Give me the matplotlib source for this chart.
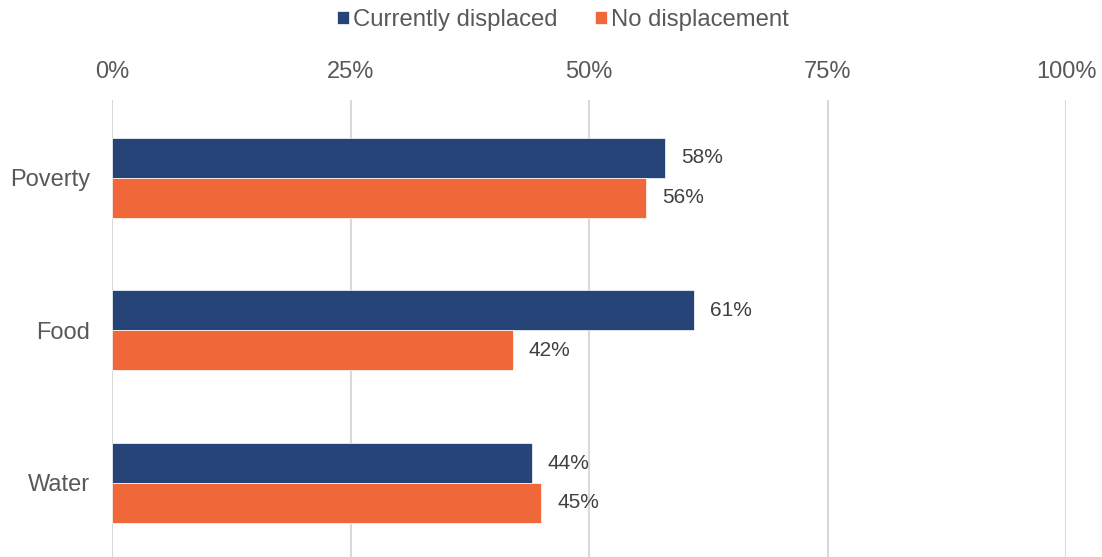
import numpy as np
import matplotlib
matplotlib.use("Agg")
import matplotlib.pyplot as plt

plt.rcParams['font.family'] = ['Liberation Sans', 'DejaVu Sans']

categories = ["Poverty", "Food", "Water"]
displaced = [58, 61, 44]
no_displacement = [56, 42, 45]
series_names = ["Currently displaced", "No displacement"]
ticks = [0, 25, 50, 75, 100]

BLUE = "#264478"
ORANGE = "#F0673A"

fig = plt.figure(figsize=(11.02, 5.57), dpi=100)
ax = fig.add_axes([112 / 1102, 0, (1066 - 112) / 1102, 1 - 100 / 557])

y = np.arange(len(categories))
h = 0.262
b1 = ax.barh(y - h / 2, displaced, height=h, color=BLUE, edgecolor="white",
             linewidth=0.5, label=series_names[0], zorder=3)
b2 = ax.barh(y + h / 2, no_displacement, height=h, color=ORANGE, edgecolor="white",
             linewidth=0.5, label=series_names[1], zorder=3)

for bars, vals in ((b1, displaced), (b2, no_displacement)):
    for rect, v in zip(bars, vals):
        ax.annotate(f"{v}%", (v, rect.get_y() + rect.get_height() / 2),
                    xytext=(11.5, 0), textcoords="offset points",
                    ha="left", va="center", fontsize=15, color="#404040")

ax.set_xlim(0, 100)
ax.set_ylim(2.485, -0.51)
ax.set_xticks(ticks)
ax.set_xticklabels([f"{t}%" for t in ticks])
ax.set_yticks(y)
ax.set_yticklabels(categories)
ax.xaxis.tick_top()
ax.tick_params(axis="x", length=0, pad=12, labelsize=17, labelcolor="#595959")
ax.tick_params(axis="y", length=0, pad=16, labelsize=17, labelcolor="#595959")
ax.grid(axis="x", color="#D9D9D9", linewidth=1.5, zorder=0)
for s in ax.spines.values():
    s.set_visible(False)

fig.legend(handles=[b1, b2], loc="center", bbox_to_anchor=(0.5 + 12 / 1102, 1 - 20 / 557),
           ncol=2, frameon=False, fontsize=17.2, handlelength=0.5, handleheight=0.5,
           handletextpad=0.17, columnspacing=1.55, labelcolor="#595959")

fig.savefig("out.png", dpi=100)
